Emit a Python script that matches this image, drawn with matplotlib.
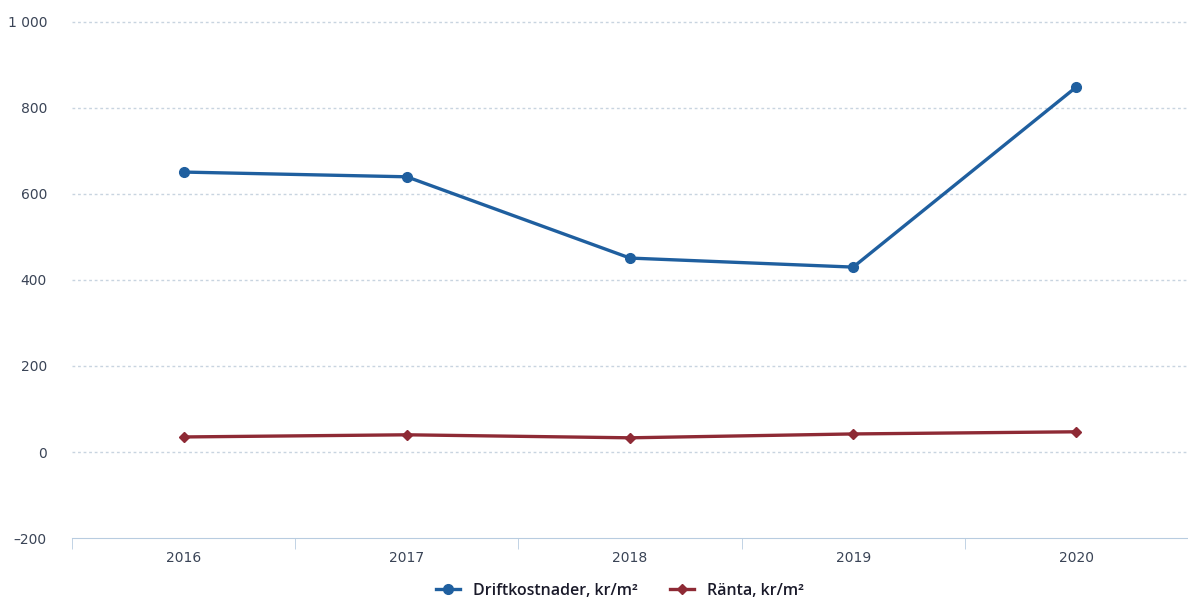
import matplotlib
matplotlib.use("Agg")
import matplotlib.pyplot as plt
from matplotlib.ticker import FuncFormatter

years = ["2016", "2017", "2018", "2019", "2020"]
drift = [651, 640, 451, 430, 849]
ranta = [35, 40, 33, 42, 47]
yticks = [-200, 0, 200, 400, 600, 800, 1000]

fig = plt.figure(figsize=(11.88, 5.99), dpi=100)
ax = fig.add_axes([72/1188, 1-538/599, 1-72/1188, (538-22)/599])
x = list(range(len(years)))

l1, = ax.plot(x, drift, color="#1f5f9f", lw=2.4, marker="o", ms=7, label="Driftkostnader, kr/m²", zorder=3)
l2, = ax.plot(x, ranta, color="#8e2a35", lw=2.4, marker="D", ms=5, label="Ränta, kr/m²", zorder=3)

ax.set_ylim(-200, 1000)
ax.set_xlim(-0.49, 4.48)
ax.set_yticks(yticks)
ax.yaxis.set_major_formatter(FuncFormatter(lambda v, p: f"{int(v):,}".replace(",", " ").replace("-", "–")))
ax.set_xticks(x)
ax.set_xticklabels(years)
ax.set_xticks([i + 0.5 for i in range(-1, 5)], minor=True)

for y in yticks[1:]:
    ax.axhline(y, color="#c8d4e0", lw=1, ls=(0, (2, 2)), zorder=1, clip_on=False)

for s in ["top", "right", "left"]:
    ax.spines[s].set_visible(False)
ax.spines["bottom"].set_color("#b8cce0")
ax.spines["bottom"].set_linestyle((0, (2, 1)))

ax.tick_params(axis="y", length=0, pad=18, labelsize=10, labelcolor="#3a4456")
ax.tick_params(axis="x", which="major", length=0, pad=9, labelsize=10, labelcolor="#3a4456")
ax.tick_params(axis="x", which="minor", length=8, color="#b8cce0", direction="out")
for lbl in ax.get_yticklabels():
    lbl.set_horizontalalignment("right")

leg = fig.legend(handles=[l1, l2], loc="center", bbox_to_anchor=(620/1188, 1-591/599), ncol=2,
                 frameon=False, handlelength=1.5, columnspacing=2.0, borderpad=0.1,
                 prop={"family": "Open Sans", "size": 11.5, "weight": "semibold"})
for t in leg.get_texts():
    t.set_color("#1a1a2a")

fig.savefig("out.png", dpi=100, facecolor="white")
